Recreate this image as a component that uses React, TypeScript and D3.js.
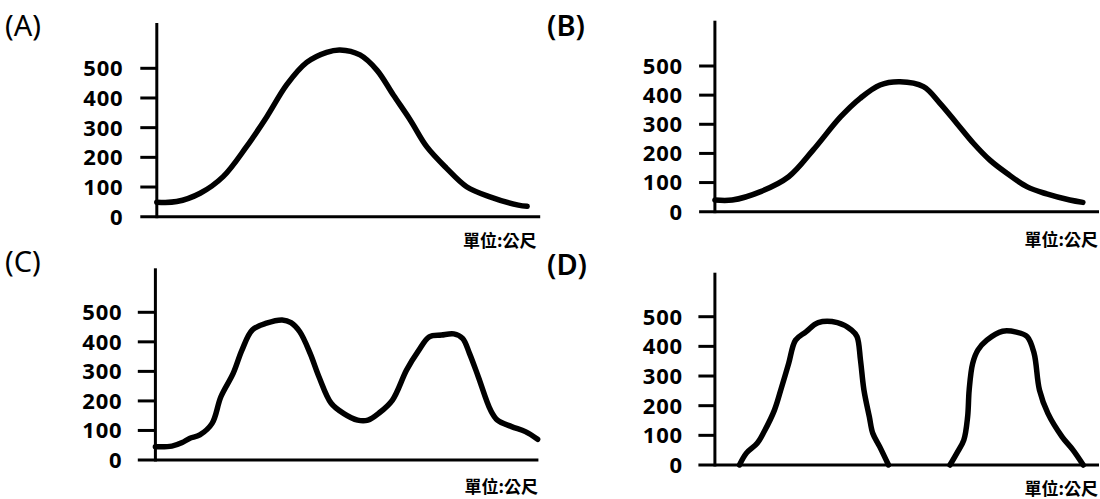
import React from "react";
import * as d3 from "d3";

// ---- data (x: relative distance 0-100 along the axis, y: elevation in 公尺) ----
const yTicks = [0, 100, 200, 300, 400, 500];
const unitLabel = "單位:公尺";

const aX = [0, 5.2, 11.3, 17.3, 23.4, 28.7, 33.9, 39.1, 44.3, 47.8, 53.0, 57.4, 61.7, 66.1, 70.4, 75.6, 80.8, 86.9, 94.3, 96.6];
const aY = [49, 51, 79, 135, 236, 337, 445, 520, 554, 562, 545, 494, 410, 326, 236, 163, 101, 67, 39, 35];

const bX = [0, 4.5, 11.9, 19.2, 25.6, 32.7, 37.8, 43.0, 48.2, 54.3, 58.6, 63.0, 67.3, 71.6, 76.0, 81.2, 86.4, 92.4, 95.8];
const bY = [40, 40, 69, 120, 212, 325, 389, 435, 446, 429, 372, 303, 235, 177, 132, 86, 61, 40, 32];

const cX = [0, 4.3, 7.0, 8.9, 11.6, 14.8, 17.1, 20.3, 22.6, 25.3, 29, 33.1, 35.4, 37.7, 40.4, 42.7, 45.9, 49.1, 52.8, 55.5, 58.3, 61.9, 65.6, 68.8, 71.5, 74.7, 77.9, 80.2, 82, 84.3, 87.5, 89.3, 93, 96.6, 99.8];
const cY = [45, 47, 59, 73, 85, 124, 214, 293, 372, 440, 463, 474, 465, 434, 361, 282, 192, 158, 135, 135, 158, 203, 305, 372, 417, 423, 427, 412, 361, 282, 169, 135, 113, 96, 70];

const d1X = [6.4, 8.2, 11, 12.8, 15.5, 17.4, 19.2, 21, 23.7, 26.9, 31.9, 35.6, 37, 37.9, 38.8, 40.2, 41.1, 42.9, 45.2];
const d1Y = [0, 40, 73, 112, 185, 264, 342, 421, 449, 480, 480, 455, 433, 354, 253, 163, 107, 62, 0];

const d2X = [61.2, 63, 64.8, 65.8, 66.2, 67.1, 68.5, 70.8, 74.9, 78.5, 81.3, 83.1, 84.5, 86.7, 90.4, 93.2, 95.9];
const d2Y = [0, 40, 84, 163, 253, 342, 388, 421, 451, 448, 433, 377, 253, 174, 95, 51, 0];

const panelNames = ["(A)", "(B)", "(C)", "(D)"];

// ---- layout ----
type Layout = {
  axisX: number; top: number; zeroY: number; y500: number; xLeft: number; xEnd: number;
  labelX: number; labelY: number; labelW: number; unitX: number; unitY: number; tickLabelX: number;
};
const layouts: Layout[] = [
  { axisX: 156.8, top: 23, zeroY: 216.7, y500: 68.3, xLeft: 140.3, xEnd: 540.2, tickLabelX: 123.5, labelX: 5, labelY: 36, labelW: 400, unitX: 536.5, unitY: 247 },
  { axisX: 714.9, top: 20.7, zeroY: 211.7, y500: 66, xLeft: 699.1, xEnd: 1099, tickLabelX: 683, labelX: 547, labelY: 36, labelW: 600, unitX: 1098, unitY: 246 },
  { axisX: 155.4, top: 268.3, zeroY: 460, y500: 312.3, xLeft: 137.8, xEnd: 538.4, tickLabelX: 122.5, labelX: 5, labelY: 272, labelW: 400, unitX: 538, unitY: 493 },
  { axisX: 714.9, top: 272.7, zeroY: 465, y500: 316.7, xLeft: 698.4, xEnd: 1099, tickLabelX: 683, labelX: 547, labelY: 275, labelW: 600, unitX: 1098, unitY: 495 },
];

const series: { xs: number[]; ys: number[] }[][] = [
  [{ xs: aX, ys: aY }],
  [{ xs: bX, ys: bY }],
  [{ xs: cX, ys: cY }],
  [{ xs: d1X, ys: d1Y }, { xs: d2X, ys: d2Y }],
];

const FONT = "'Noto Sans', 'Noto Sans CJK TC', sans-serif";

function Panel({ idx }: { idx: number }) {
  const L = layouts[idx];
  const x = d3.scaleLinear().domain([0, 100]).range([L.axisX, L.xEnd]);
  const y = d3.scaleLinear().domain([0, 500]).range([L.zeroY, L.y500]);
  const line = d3
    .line<[number, number]>()
    .x((d) => x(d[0]))
    .y((d) => y(d[1]))
    .curve(d3.curveCatmullRom.alpha(0.5));
  return (
    <g>
      <text x={L.labelX} y={L.labelY} fontFamily={FONT} fontSize={29} fontWeight={L.labelW} fill="#000">
        {panelNames[idx]}
      </text>
      {/* y axis */}
      <line x1={L.axisX} x2={L.axisX} y1={L.top} y2={L.zeroY + 1.5} stroke="#000" strokeWidth={3} />
      {/* x axis */}
      <line x1={L.xLeft} x2={L.xEnd} y1={L.zeroY} y2={L.zeroY} stroke="#000" strokeWidth={3} />
      {yTicks.map((t) => (
        <g key={t}>
          {t > 0 && (
            <line x1={L.xLeft} x2={L.axisX} y1={y(t)} y2={y(t)} stroke="#000" strokeWidth={3} />
          )}
          <text
            x={L.tickLabelX}
            y={y(t)}
            dy="0.36em"
            textAnchor="end"
            fontFamily={FONT}
            fontSize={22}
            fontWeight="bold"
            letterSpacing={0.8}
            fill="#000"
          >
            {t}
          </text>
        </g>
      ))}
      {series[idx].map((s, i) => (
        <path
          key={i}
          d={line(s.xs.map((v, j) => [v, s.ys[j]] as [number, number])) || ""}
          fill="none"
          stroke="#000"
          strokeWidth={5.5}
          strokeLinecap="round"
          strokeLinejoin="round"
        />
      ))}
      <text
        x={L.unitX}
        y={L.unitY}
        textAnchor="end"
        fontFamily="'Noto Sans CJK TC', sans-serif"
        fontSize={17}
        fontWeight="bold"
        fill="#000"
      >
        {unitLabel}
      </text>
    </g>
  );
}

export default function App() {
  return (
    <svg
      width={1100}
      height={499}
      style={{ position: "absolute", left: 0, top: 0, background: "#fff" }}
    >
      {[0, 1, 2, 3].map((i) => (
        <Panel key={i} idx={i} />
      ))}
    </svg>
  );
}
